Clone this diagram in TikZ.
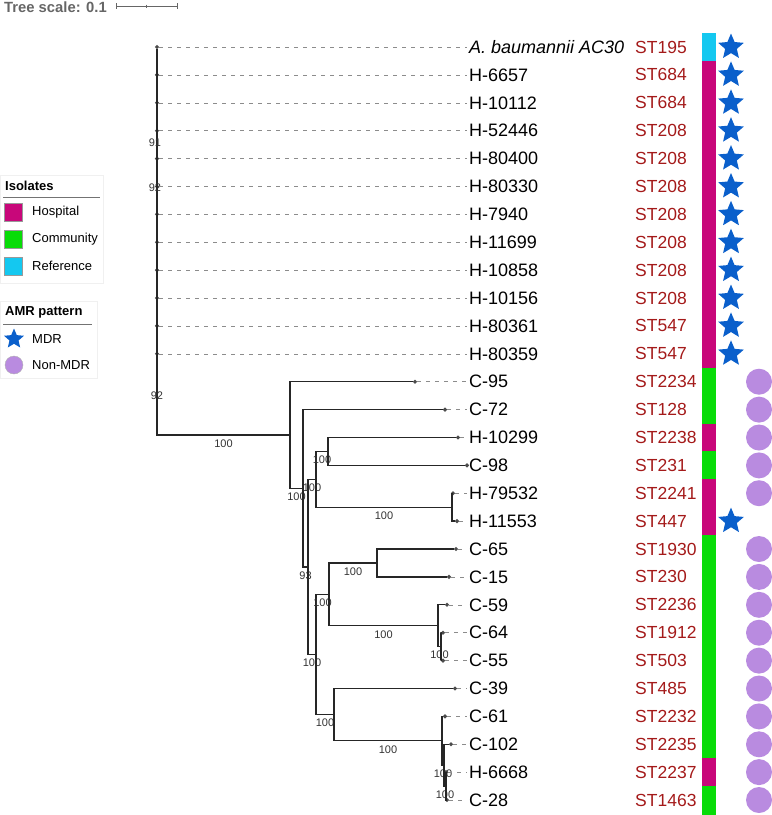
\documentclass[tikz,border=0pt]{standalone}
\usepackage{fontspec}
\setmainfont{Liberation Sans}
\usetikzlibrary{shapes.geometric}
\definecolor{hosp}{HTML}{C8077A}
\definecolor{comm}{HTML}{08DC08}
\definecolor{refc}{HTML}{14C8F0}
\definecolor{mdr}{HTML}{0A5FCB}
\definecolor{nonmdr}{HTML}{B98BE0}
\definecolor{stred}{HTML}{A41A1A}
\tikzset{
  branch/.style={color=black!85,line width=1.3pt},
  leafline/.style={color=black!45,dash pattern=on 4pt off 5pt,line width=0.6pt,shorten >=2pt},
  mdrstar/.style={star,star points=5,star point ratio=2.2,fill=mdr,inner sep=0pt,minimum size=27pt},
  nonmdrdot/.style={circle,fill=nonmdr,inner sep=0pt,minimum size=26pt},
  legsq/.style={draw=black!40,line width=0.4pt,minimum size=18pt,inner sep=0pt},
  legtxt/.style={anchor=west,inner sep=0pt,font=\fontsize{13}{15}\selectfont},
  legtitle/.style={anchor=west,inner sep=0pt,font=\bfseries\fontsize{13}{15}\selectfont}
}
\begin{document}
\begin{tikzpicture}[x=1pt,y=-1pt]
\useasboundingbox (0,0) rectangle (772,815);

\node[anchor=west,inner sep=0pt,text=black!60,font=\bfseries\fontsize{14.8}{16}\selectfont] (title) at (4,7) {Tree scale: 0.1};
\coordinate (sa) at (116,6);
\coordinate (sm) at (146.5,6);
\coordinate (sb) at (177,6);
\draw[black!60,line width=0.8pt] (sa) -- (sb);
\draw[black!60,line width=0.8pt] ([yshift=3pt]sa) -- ([yshift=-3pt]sa);
\draw[black!60,line width=0.8pt] ([yshift=1.5pt]sm) -- ([yshift=-1.5pt]sm);
\draw[black!60,line width=0.8pt] ([yshift=3pt]sb) -- ([yshift=-3pt]sb);

\begin{scope}[every node/.style={diamond,fill=black!70,inner sep=0pt,minimum size=4.5pt}]
  \node (t1)  at (157,47.0)  {};
  \node (t2)  at (157,74.9)  {};
  \node (t3)  at (157,102.8) {};
  \node (t4)  at (157,130.7) {};
  \node (t5)  at (157,158.6) {};
  \node (t6)  at (157,186.5) {};
  \node (t7)  at (157,214.3) {};
  \node (t8)  at (157,242.2) {};
  \node (t9)  at (157,270.1) {};
  \node (t10) at (157,298.0) {};
  \node (t11) at (157,325.9) {};
  \node (t12) at (157,353.8) {};
  \node (t13) at (415,381.7) {};
  \node (t14) at (445,409.6) {};
  \node (t15) at (458,437.5) {};
  \node (t16) at (467,465.4) {};
  \node (t17) at (453,493.2) {};
  \node (t18) at (457,521.1) {};
  \node (t19) at (456,549.0) {};
  \node (t20) at (449,576.9) {};
  \node (t21) at (447,604.8) {};
  \node (t22) at (443,632.7) {};
  \node (t23) at (443,660.6) {};
  \node (t24) at (455,688.5) {};
  \node (t25) at (445,716.4) {};
  \node (t26) at (451,744.3) {};
  \node (t27) at (446,772.1) {};
  \node (t28) at (447,800.0) {};
\end{scope}

\coordinate (n1)  at (290,435.0);
\coordinate (n2)  at (303,488.3);
\coordinate (n3)  at (308,566.9);
\coordinate (n4)  at (316,479.3);
\coordinate (n5)  at (316,654.5);
\coordinate (n6)  at (328,451.5);
\coordinate (n7)  at (452,507.2);
\coordinate (n8)  at (329,594.3);
\coordinate (n9)  at (377,563.0);
\coordinate (n10) at (438,625.7);
\coordinate (n11) at (441,646.6);
\coordinate (n12) at (334,714.6);
\coordinate (n13) at (442,740.8);
\coordinate (n14) at (444,765.2);
\coordinate (n15) at (446,786.1);

\begin{scope}[branch,every node/.style={font=\fontsize{11}{12}\selectfont,text=black!80,anchor=north,inner sep=1pt,yshift=-3pt,pos=0.75}]
  \draw (t1)  |- node {100} (n1);
  \draw (n1)  |- (t13);
  \draw (n1)  |- node {100} (n2);
  \draw (n2)  |- (t14);
  \draw (n2)  |- node {93} (n3);
  \draw (n3)  |- node {100} (n4);
  \draw (n3)  |- node {100} (n5);
  \draw (n4)  |- node {100} (n6);
  \draw (n4)  |- node {100} (n7);
  \draw (n6)  |- (t15);
  \draw (n6)  |- (t16);
  \draw (n7)  |- (t17);
  \draw (n7)  |- (t18);
  \draw (n5)  |- node {100} (n8);
  \draw (n5)  |- node {100} (n12);
  \draw (n8)  |- node {100} (n9);
  \draw (n8)  |- node {100} (n10);
  \draw (n9)  |- (t19);
  \draw (n9)  |- (t20);
  \draw (n10) |- (t21);
  \draw (n10) |- node {100} (n11);
  \draw (n11) |- (t22);
  \draw (n11) |- (t23);
  \draw (n12) |- (t24);
  \draw (n12) |- node {100} (n13);
  \draw (n13) |- (t25);
  \draw (n13) |- node {100} (n14);
  \draw (n14) |- (t26);
  \draw (n14) |- node {100} (n15);
  \draw (n15) |- (t27);
  \draw (n15) |- (t28);
\end{scope}

\begin{scope}[every node/.style={font=\fontsize{11}{12}\selectfont,text=black!80,inner sep=0pt}]
  \node (b1) at (155,143) {91};
  \node (b2) at (155,188) {92};
  \node (b3) at (157,396) {92};
\end{scope}

\begin{scope}[every node/.style={anchor=west,inner sep=0pt,font=\fontsize{18}{21}\selectfont}]
  \node (l1)  at (469,47.0)  {\itshape A. baumannii AC30};
  \node (l2)  at (469,74.9)  {H-6657};
  \node (l3)  at (469,102.8) {H-10112};
  \node (l4)  at (469,130.7) {H-52446};
  \node (l5)  at (469,158.6) {H-80400};
  \node (l6)  at (469,186.5) {H-80330};
  \node (l7)  at (469,214.3) {H-7940};
  \node (l8)  at (469,242.2) {H-11699};
  \node (l9)  at (469,270.1) {H-10858};
  \node (l10) at (469,298.0) {H-10156};
  \node (l11) at (469,325.9) {H-80361};
  \node (l12) at (469,353.8) {H-80359};
  \node (l13) at (469,381.7) {C-95};
  \node (l14) at (469,409.6) {C-72};
  \node (l15) at (469,437.5) {H-10299};
  \node (l16) at (469,465.4) {C-98};
  \node (l17) at (469,493.2) {H-79532};
  \node (l18) at (469,521.1) {H-11553};
  \node (l19) at (469,549.0) {C-65};
  \node (l20) at (469,576.9) {C-15};
  \node (l21) at (469,604.8) {C-59};
  \node (l22) at (469,632.7) {C-64};
  \node (l23) at (469,660.6) {C-55};
  \node (l24) at (469,688.5) {C-39};
  \node (l25) at (469,716.4) {C-61};
  \node (l26) at (469,744.3) {C-102};
  \node (l27) at (469,772.1) {H-6668};
  \node (l28) at (469,800.0) {C-28};
\end{scope}

\begin{scope}[leafline]
  \draw (t1) -- (l1);   \draw (t2) -- (l2);   \draw (t3) -- (l3);   \draw (t4) -- (l4);
  \draw (t5) -- (l5);   \draw (t6) -- (l6);   \draw (t7) -- (l7);   \draw (t8) -- (l8);
  \draw (t9) -- (l9);   \draw (t10) -- (l10); \draw (t11) -- (l11); \draw (t12) -- (l12);
  \draw (t13) -- (l13); \draw (t14) -- (l14); \draw (t15) -- (l15); \draw (t17) -- (l17);
  \draw (t18) -- (l18); \draw (t19) -- (l19); \draw (t20) -- (l20); \draw (t21) -- (l21);
  \draw (t22) -- (l22); \draw (t23) -- (l23); \draw (t24) -- (l24); \draw (t25) -- (l25);
  \draw (t26) -- (l26); \draw (t27) -- (l27); \draw (t28) -- (l28);
\end{scope}

\begin{scope}[every node/.style={anchor=west,inner sep=0pt,text=stred,font=\fontsize{17.5}{20}\selectfont}]
  \node (s1)  at (635,47.0)  {ST195};
  \node (s2)  at (635,74.9)  {ST684};
  \node (s3)  at (635,102.8) {ST684};
  \node (s4)  at (635,130.7) {ST208};
  \node (s5)  at (635,158.6) {ST208};
  \node (s6)  at (635,186.5) {ST208};
  \node (s7)  at (635,214.3) {ST208};
  \node (s8)  at (635,242.2) {ST208};
  \node (s9)  at (635,270.1) {ST208};
  \node (s10) at (635,298.0) {ST208};
  \node (s11) at (635,325.9) {ST547};
  \node (s12) at (635,353.8) {ST547};
  \node (s13) at (635,381.7) {ST2234};
  \node (s14) at (635,409.6) {ST128};
  \node (s15) at (635,437.5) {ST2238};
  \node (s16) at (635,465.4) {ST231};
  \node (s17) at (635,493.2) {ST2241};
  \node (s18) at (635,521.1) {ST447};
  \node (s19) at (635,549.0) {ST1930};
  \node (s20) at (635,576.9) {ST230};
  \node (s21) at (635,604.8) {ST2236};
  \node (s22) at (635,632.7) {ST1912};
  \node (s23) at (635,660.6) {ST503};
  \node (s24) at (635,688.5) {ST485};
  \node (s25) at (635,716.4) {ST2232};
  \node (s26) at (635,744.3) {ST2235};
  \node (s27) at (635,772.1) {ST2237};
  \node (s28) at (635,800.0) {ST1463};
\end{scope}

\fill[refc] (702,33.0) rectangle (716,61.0);
\fill[hosp] (702,61.0) rectangle (716,367.8);
\fill[comm] (702,367.8) rectangle (716,423.5);
\fill[hosp] (702,423.5) rectangle (716,451.4);
\fill[comm] (702,451.4) rectangle (716,479.3);
\fill[hosp] (702,479.3) rectangle (716,535.1);
\fill[comm] (702,535.1) rectangle (716,758.2);
\fill[hosp] (702,758.2) rectangle (716,786.1);
\fill[comm] (702,786.1) rectangle (716,815);

\begin{scope}[every node/.style={mdrstar}]
  \node (m1)  at (731,47.0)  {};
  \node (m2)  at (731,74.9)  {};
  \node (m3)  at (731,102.8) {};
  \node (m4)  at (731,130.7) {};
  \node (m5)  at (731,158.6) {};
  \node (m6)  at (731,186.5) {};
  \node (m7)  at (731,214.3) {};
  \node (m8)  at (731,242.2) {};
  \node (m9)  at (731,270.1) {};
  \node (m10) at (731,298.0) {};
  \node (m11) at (731,325.9) {};
  \node (m12) at (731,353.8) {};
  \node (m18) at (731,521.1) {};
\end{scope}

\begin{scope}[every node/.style={nonmdrdot}]
  \node (m13) at (759,381.7) {};
  \node (m14) at (759,409.6) {};
  \node (m15) at (759,437.5) {};
  \node (m16) at (759,465.4) {};
  \node (m17) at (759,493.2) {};
  \node (m19) at (759,549.0) {};
  \node (m20) at (759,576.9) {};
  \node (m21) at (759,604.8) {};
  \node (m22) at (759,632.7) {};
  \node (m23) at (759,660.6) {};
  \node (m24) at (759,688.5) {};
  \node (m25) at (759,716.4) {};
  \node (m26) at (759,744.3) {};
  \node (m27) at (759,772.1) {};
  \node (m28) at (759,800.0) {};
\end{scope}

\draw[black!6] (0,175) rectangle (103,283);
\node[legtitle] (isol) at (5,186) {Isolates};
\draw[black!55,line width=0.6pt] (3,197) -- (100,197);
\node[legsq,fill=hosp] (kh) at (13.5,212) {};
\node[legsq,fill=comm] (kc) at (13.5,239) {};
\node[legsq,fill=refc] (kr) at (13.5,266) {};
\node[legtxt] (kht) at (32,212) {Hospital};
\node[legtxt] (kct) at (32,239) {Community};
\node[legtxt] (krt) at (32,266) {Reference};

\draw[black!6] (0,301) rectangle (97,378);
\node[legtitle] (amr) at (5,312) {AMR pattern};
\draw[black!55,line width=0.6pt] (3,324) -- (92,324);
\node[mdrstar,minimum size=21pt] (km) at (14,339) {};
\node[nonmdrdot,draw=black!30,line width=0.4pt,minimum size=18pt] (kn) at (14,365) {};
\node[legtxt] (kmt) at (32,339) {MDR};
\node[legtxt] (knt) at (32,365) {Non-MDR};

\end{tikzpicture}
\end{document}
